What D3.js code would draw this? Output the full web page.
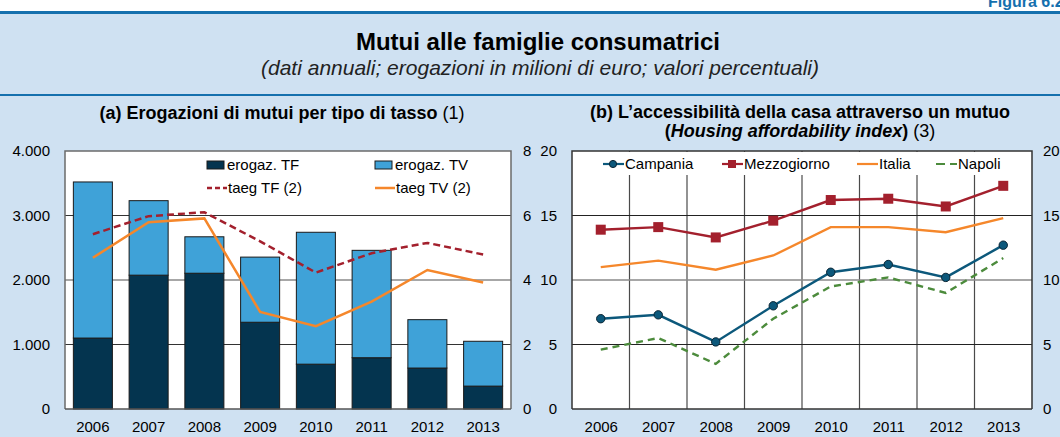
<!DOCTYPE html>
<html>
<head>
<meta charset="utf-8">
<script src="https://cdn.jsdelivr.net/npm/d3@7"></script>
<style>
  html, body { margin: 0; padding: 0; background: #ffffff; }
  svg { display: block; font-family: "Liberation Sans", Arial, sans-serif; }
</style>
</head>
<body>
<svg id="chart" width="1060" height="437"></svg>
<script>
// ---- Panel (a): mortgage disbursements by rate type (millions of euro) and APRC (%)
const years = ["2006", "2007", "2008", "2009", "2010", "2011", "2012", "2013"];
const erogazTF = [1100, 2075, 2105, 1345, 695, 795, 635, 355];
const erogazTV = [2420, 1155, 565, 1010, 2045, 1665, 750, 695];
const taegTF = [5.42, 5.98, 6.1, 5.2, 4.23, 4.83, 5.15, 4.79];
const taegTV = [4.69, 5.79, 5.91, 3.01, 2.57, 3.33, 4.31, 3.92];
const leftTicksA = [0, 1000, 2000, 3000, 4000];
const rightTicksA = [0, 2, 4, 6, 8];

// ---- Panel (b): housing affordability index
const campania = [7.0, 7.3, 5.2, 8.0, 10.6, 11.2, 10.2, 12.7];
const mezzogiorno = [13.9, 14.1, 13.3, 14.6, 16.2, 16.3, 15.7, 17.3];
const italia = [11.0, 11.5, 10.8, 11.9, 14.1, 14.1, 13.7, 14.8];
const napoli = [4.6, 5.5, 3.5, 7.0, 9.5, 10.2, 9.0, 11.7];
const ticksB = [0, 5, 10, 15, 20];

const C = {
  bg: "#cfe1f2",
  rule: "#1570ae",
  tf: "#04344f",
  tv: "#3fa2d8",
  red: "#a3202d",
  orange: "#f5872b",
  teal: "#0c587b",
  green: "#4c8b3c"
};

const svg = d3.select("#chart");
const fmt = d3.format(",");
const itNum = v => fmt(v).replace(/,/g, ".");

// page background and header rules
svg.append("rect").attr("x", 0).attr("y", 13).attr("width", 1060).attr("height", 424).attr("fill", C.bg);
svg.append("rect").attr("x", 0).attr("y", 11).attr("width", 1060).attr("height", 3).attr("fill", C.rule);
svg.append("rect").attr("x", 0).attr("y", 94).attr("width", 1060).attr("height", 2).attr("fill", C.rule);
svg.append("text").attr("x", 988).attr("y", 7).attr("fill", C.rule)
  .attr("font-size", 16).attr("font-weight", "bold").text("Figura 6.2");

svg.append("text").attr("x", 538).attr("y", 50).attr("text-anchor", "middle")
  .attr("font-size", 24).attr("font-weight", "bold").attr("fill", "#000")
  .text("Mutui alle famiglie consumatrici");
svg.append("text").attr("x", 540).attr("y", 75).attr("text-anchor", "middle")
  .attr("font-size", 21).attr("font-style", "italic").attr("fill", "#222")
  .text("(dati annuali; erogazioni in milioni di euro; valori percentuali)");

// panel titles
const ta = svg.append("text").attr("x", 282).attr("y", 119).attr("text-anchor", "middle")
  .attr("font-size", 18).attr("fill", "#000");
ta.append("tspan").attr("font-weight", "bold").text("(a) Erogazioni di mutui per tipo di tasso ");
ta.append("tspan").text("(1)");

svg.append("text").attr("x", 800).attr("y", 118).attr("text-anchor", "middle")
  .attr("font-size", 18).attr("font-weight", "bold").attr("fill", "#000")
  .text("(b) L’accessibilità della casa attraverso un mutuo");
const tb = svg.append("text").attr("x", 800).attr("y", 137).attr("text-anchor", "middle")
  .attr("font-size", 18).attr("fill", "#000");
tb.append("tspan").attr("font-weight", "bold").text("(");
tb.append("tspan").attr("font-weight", "bold").attr("font-style", "italic").text("Housing affordability index");
tb.append("tspan").attr("font-weight", "bold").text(")");
tb.append("tspan").text(" (3)");

const TICK_FS = 15;

// ================= Panel (a) =================
const A = { x0: 65, x1: 511, y0: 151, y1: 409 };
const xa = d3.scaleBand().domain(years).range([A.x0, A.x1]).paddingInner(0.3).paddingOuter(0.15);
const ya = d3.scaleLinear().domain([0, 4000]).range([A.y1, A.y0]);
const ya2 = d3.scaleLinear().domain([0, 8]).range([A.y1, A.y0]);

const ga = svg.append("g");
ga.append("rect").attr("x", A.x0).attr("y", A.y0).attr("width", A.x1 - A.x0).attr("height", A.y1 - A.y0).attr("fill", "#fff");

// horizontal grid
ga.selectAll("line.grid").data([1000, 2000, 3000]).join("line")
  .attr("x1", A.x0).attr("x2", A.x1)
  .attr("y1", d => ya(d)).attr("y2", d => ya(d))
  .attr("stroke", d => d === 2000 ? "#8a8a8a" : "#333")
  .attr("stroke-width", d => d === 2000 ? 1.6 : 1);

// stacked bars
const stack = years.map((y, i) => ({ year: y, tf: erogazTF[i], tv: erogazTV[i] }));
ga.selectAll("rect.tf").data(stack).join("rect")
  .attr("x", d => xa(d.year)).attr("width", xa.bandwidth())
  .attr("y", d => ya(d.tf)).attr("height", d => ya(0) - ya(d.tf))
  .attr("fill", C.tf).attr("stroke", "#1a1a1a").attr("stroke-width", 1);
ga.selectAll("rect.tv").data(stack).join("rect")
  .attr("x", d => xa(d.year)).attr("width", xa.bandwidth())
  .attr("y", d => ya(d.tf + d.tv)).attr("height", d => ya(d.tf) - ya(d.tf + d.tv))
  .attr("fill", C.tv).attr("stroke", "#1a1a1a").attr("stroke-width", 1);

// rate lines on the right axis
const cx = y => xa(y) + xa.bandwidth() / 2;
const lineA = d3.line().x((d, i) => cx(years[i])).y(d => ya2(d));
ga.append("path").attr("d", lineA(taegTF)).attr("fill", "none")
  .attr("stroke", C.red).attr("stroke-width", 2.5).attr("stroke-dasharray", "7,4");
ga.append("path").attr("d", lineA(taegTV)).attr("fill", "none")
  .attr("stroke", C.orange).attr("stroke-width", 2.5);

// frame
ga.append("path").attr("d", `M${A.x0},${A.y1}V${A.y0}H${A.x1}V${A.y1}`)
  .attr("fill", "none").attr("stroke", "#6b6b6b").attr("stroke-width", 1.5);
ga.append("line").attr("x1", A.x0).attr("x2", A.x1).attr("y1", A.y1).attr("y2", A.y1)
  .attr("stroke", "#555").attr("stroke-width", 1.5);

// axes
const axLa = d3.axisLeft(ya).tickValues(leftTicksA).tickFormat(itNum).tickSize(0).tickPadding(15);
const gla = svg.append("g").attr("transform", `translate(${A.x0},0)`).call(axLa);
const axRa = d3.axisRight(ya2).tickValues(rightTicksA).tickFormat(d3.format("d")).tickSize(0).tickPadding(12);
const gra = svg.append("g").attr("transform", `translate(${A.x1},0)`).call(axRa);
const axBa = d3.axisBottom(xa).tickSize(0).tickPadding(12);
const gba = svg.append("g").attr("transform", `translate(0,${A.y1})`).call(axBa);

// legend (a)
const legA = svg.append("g").attr("font-size", 15).attr("fill", "#000");
const legItemsA = [
  { label: "erogaz. TF", type: "box", color: C.tf, x: 207, y: 165 },
  { label: "erogaz. TV", type: "box", color: C.tv, x: 375, y: 165 },
  { label: "taeg TF (2)", type: "dash", color: C.red, x: 207, y: 188 },
  { label: "taeg TV (2)", type: "line", color: C.orange, x: 375, y: 188 }
];
legItemsA.forEach(d => {
  if (d.type === "box") {
    legA.append("rect").attr("x", d.x).attr("y", d.y - 4).attr("width", 17).attr("height", 8)
      .attr("fill", d.color).attr("stroke", "#1a1a1a").attr("stroke-width", 1);
  } else {
    legA.append("line").attr("x1", d.x).attr("x2", d.x + 20).attr("y1", d.y).attr("y2", d.y)
      .attr("stroke", d.color).attr("stroke-width", 2.5)
      .attr("stroke-dasharray", d.type === "dash" ? "5,3" : null);
  }
  legA.append("text").attr("x", d.x + (d.type === "box" ? 20 : 21)).attr("y", d.y + 5).text(d.label);
});

// ================= Panel (b) =================
const B = { x0: 572, x1: 1032, y0: 151, y1: 409 };
const xb = d3.scalePoint().domain(years).range([B.x0, B.x1]).padding(0.5);
const yb = d3.scaleLinear().domain([0, 20]).range([B.y1, B.y0]);
const gb = svg.append("g");
gb.append("rect").attr("x", B.x0).attr("y", B.y0).attr("width", B.x1 - B.x0).attr("height", B.y1 - B.y0).attr("fill", "#fff");

// vertical grid between years
const step = xb.step();
gb.selectAll("line.vgrid").data(years.slice(1)).join("line")
  .attr("x1", d => xb(d) - step / 2).attr("x2", d => xb(d) - step / 2)
  .attr("y1", B.y0).attr("y2", B.y1)
  .attr("stroke", "#4a4a4a").attr("stroke-width", 1.2);
// horizontal grid
gb.selectAll("line.hgrid").data([5, 10, 15]).join("line")
  .attr("x1", B.x0).attr("x2", B.x1)
  .attr("y1", d => yb(d)).attr("y2", d => yb(d))
  .attr("stroke", d => d === 10 ? "#8a8a8a" : "#222")
  .attr("stroke-width", d => d === 10 ? 1.6 : 1);

// legend band sits on white above the grid
gb.append("rect").attr("x", B.x0 + 2).attr("y", B.y0 + 1).attr("width", B.x1 - B.x0 - 4).attr("height", 23).attr("fill", "#fff");

const lineB = d3.line().x((d, i) => xb(years[i])).y(d => yb(d));
const seriesB = [
  { name: "Italia", values: italia, color: C.orange, dash: null, marker: null },
  { name: "Napoli", values: napoli, color: C.green, dash: "7,5", marker: null },
  { name: "Mezzogiorno", values: mezzogiorno, color: C.red, dash: null, marker: "square" },
  { name: "Campania", values: campania, color: C.teal, dash: null, marker: "circle" }
];
seriesB.forEach(s => {
  gb.append("path").attr("d", lineB(s.values)).attr("fill", "none")
    .attr("stroke", s.color).attr("stroke-width", 2.4).attr("stroke-dasharray", s.dash);
  if (s.marker === "circle") {
    gb.selectAll(null).data(s.values).join("circle")
      .attr("cx", (d, i) => xb(years[i])).attr("cy", d => yb(d)).attr("r", 4.2)
      .attr("fill", s.color).attr("stroke", "#0a2433").attr("stroke-width", 1);
  } else if (s.marker === "square") {
    gb.selectAll(null).data(s.values).join("rect")
      .attr("x", (d, i) => xb(years[i]) - 5).attr("y", d => yb(d) - 5)
      .attr("width", 10).attr("height", 10).attr("fill", s.color);
  }
});

gb.append("path").attr("d", `M${B.x0},${B.y1}V${B.y0}H${B.x1}V${B.y1}`)
  .attr("fill", "none").attr("stroke", "#333").attr("stroke-width", 1.5);
gb.append("line").attr("x1", B.x0).attr("x2", B.x1).attr("y1", B.y1).attr("y2", B.y1)
  .attr("stroke", "#333").attr("stroke-width", 1.5);

const axLb = d3.axisLeft(yb).tickValues(ticksB).tickFormat(d3.format("d")).tickSize(0).tickPadding(15);
svg.append("g").attr("transform", `translate(${B.x0},0)`).call(axLb);
const axRb = d3.axisRight(yb).tickValues(ticksB).tickFormat(d3.format("d")).tickSize(0).tickPadding(11);
svg.append("g").attr("transform", `translate(${B.x1},0)`).call(axRb);
const axBb = d3.axisBottom(xb).tickSize(0).tickPadding(12);
svg.append("g").attr("transform", `translate(0,${B.y1})`).call(axBb);

// legend (b)
const legB = svg.append("g").attr("font-size", 15).attr("fill", "#000");
const legItemsB = [
  { label: "Campania", color: C.teal, x: 603, marker: "circle", dash: null },
  { label: "Mezzogiorno", color: C.red, x: 722, marker: "square", dash: null },
  { label: "Italia", color: C.orange, x: 857, marker: null, dash: null },
  { label: "Napoli", color: C.green, x: 936, marker: null, dash: "9,5" }
];
const ly = 164;
legItemsB.forEach(d => {
  legB.append("line").attr("x1", d.x).attr("x2", d.x + 21).attr("y1", ly).attr("y2", ly)
    .attr("stroke", d.color).attr("stroke-width", 2.2).attr("stroke-dasharray", d.dash);
  if (d.marker === "circle") {
    legB.append("circle").attr("cx", d.x + 10).attr("cy", ly).attr("r", 3.6)
      .attr("fill", d.color).attr("stroke", "#0a2433").attr("stroke-width", 1);
  } else if (d.marker === "square") {
    legB.append("rect").attr("x", d.x + 6).attr("y", ly - 4).attr("width", 8).attr("height", 8).attr("fill", d.color);
  }
  legB.append("text").attr("x", d.x + 22).attr("y", ly + 5).text(d.label);
});

// shared tick styling
svg.selectAll(".tick text").attr("font-size", TICK_FS).attr("fill", "#000")
  .attr("font-family", "'Liberation Sans', Arial, sans-serif");
svg.selectAll(".domain").remove();
gra.selectAll(".tick text").attr("text-anchor", "start");
</script>
</body>
</html>
